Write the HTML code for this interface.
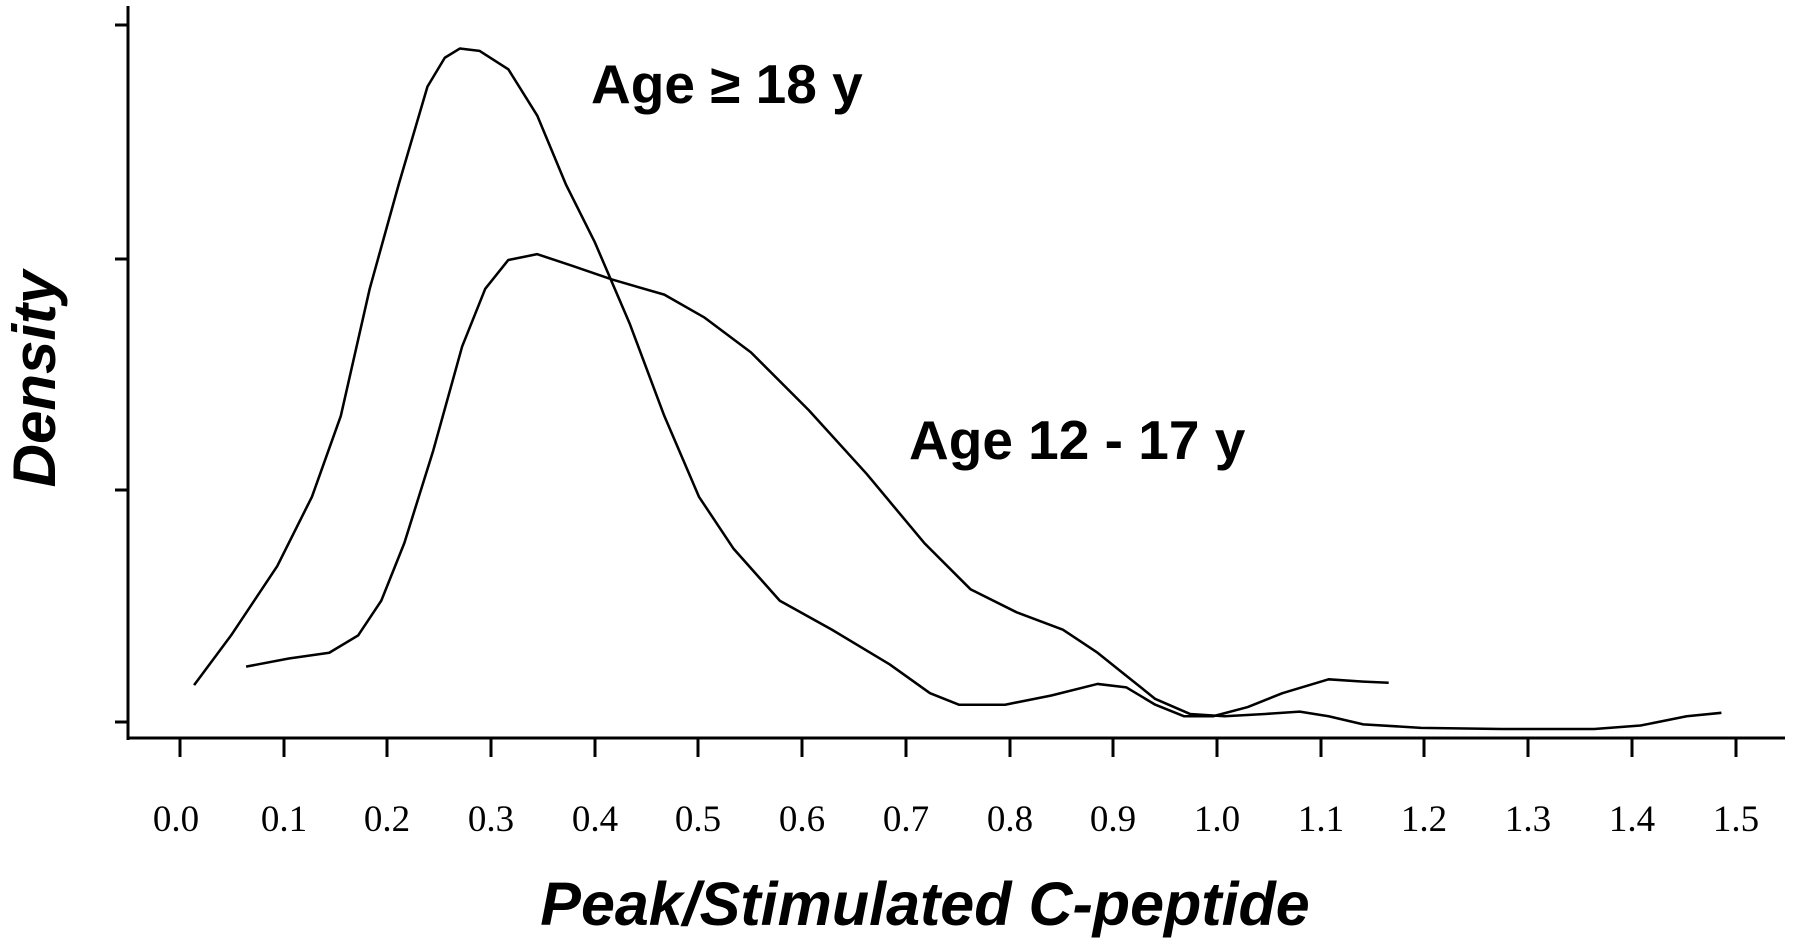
<!DOCTYPE html>
<html><head><meta charset="utf-8"><style>
html,body{margin:0;padding:0;background:#fff;}
svg{display:block;}
</style></head><body>
<svg width="1800" height="947" viewBox="0 0 1800 947" xmlns="http://www.w3.org/2000/svg">
<rect width="1800" height="947" fill="#fff"/>
<g stroke="#000" stroke-width="3" fill="none">
<line x1="128" y1="6" x2="128" y2="740"/>
<line x1="127" y1="738" x2="1785" y2="738"/>
<line x1="115" y1="25" x2="128" y2="25"/>
<line x1="115" y1="259" x2="128" y2="259"/>
<line x1="115" y1="490" x2="128" y2="490"/>
<line x1="115" y1="722" x2="128" y2="722"/>
</g>
<g stroke="#000" stroke-width="3">
<line x1="180" y1="738" x2="180" y2="757"/>
<line x1="284" y1="738" x2="284" y2="757"/>
<line x1="387" y1="738" x2="387" y2="757"/>
<line x1="491" y1="738" x2="491" y2="757"/>
<line x1="595" y1="738" x2="595" y2="757"/>
<line x1="698" y1="738" x2="698" y2="757"/>
<line x1="802" y1="738" x2="802" y2="757"/>
<line x1="906" y1="738" x2="906" y2="757"/>
<line x1="1010" y1="738" x2="1010" y2="757"/>
<line x1="1113" y1="738" x2="1113" y2="757"/>
<line x1="1217" y1="738" x2="1217" y2="757"/>
<line x1="1321" y1="738" x2="1321" y2="757"/>
<line x1="1424" y1="738" x2="1424" y2="757"/>
<line x1="1528" y1="738" x2="1528" y2="757"/>
<line x1="1632" y1="738" x2="1632" y2="757"/>
<line x1="1736" y1="738" x2="1736" y2="757"/>
</g>
<g font-family="Liberation Serif, serif" font-size="37" text-anchor="middle" fill="#000">
<text x="176" y="831">0.0</text><text x="284" y="831">0.1</text><text x="387" y="831">0.2</text>
<text x="491" y="831">0.3</text><text x="595" y="831">0.4</text><text x="698" y="831">0.5</text>
<text x="802" y="831">0.6</text><text x="906" y="831">0.7</text><text x="1010" y="831">0.8</text>
<text x="1113" y="831">0.9</text><text x="1217" y="831">1.0</text><text x="1321" y="831">1.1</text>
<text x="1424" y="831">1.2</text><text x="1528" y="831">1.3</text><text x="1632" y="831">1.4</text>
<text x="1736" y="831">1.5</text>
</g>
<g transform="scale(1.1553)" stroke="#000" stroke-width="2.2" fill="none" stroke-linejoin="round">
<polyline points="168,593 200,550 240,490 270,430 295,360 320,250 345,160 370,75 385,50 398,42 415,44 440,60 465,100 490,160 515,210 545,280 575,360 605,430 635,475 675,520 720,545 770,575 805,600 830,610 870,610 910,602 950,592 975,595 1000,610 1025,620 1050,620 1080,612 1110,600 1150,588 1180,590 1202,591"/>
<polyline points="213,577 250,570 285,565 310,550 330,520 350,470 375,390 400,300 420,250 440,225 465,220 495,230 530,242 575,255 610,275 650,305 700,355 750,410 800,470 840,510 880,530 920,545 950,565 975,585 1000,605 1030,618 1060,620 1095,618 1125,616 1150,620 1180,627 1230,630 1300,631 1380,631 1420,628 1460,620 1490,617"/>
</g>
<g font-family="Liberation Sans, Arial, sans-serif" font-weight="bold" fill="#000">
<text x="591" y="103" font-size="55">Age ≥ 18 y</text>
<text x="909" y="459" font-size="55">Age 12 - 17 y</text>
<text x="925" y="925" font-size="61" font-style="italic" text-anchor="middle">Peak/Stimulated C-peptide</text>
<text transform="translate(55,379) rotate(-90)" font-size="60" font-style="italic" text-anchor="middle">Density</text>
</g>
</svg>
</body></html>
